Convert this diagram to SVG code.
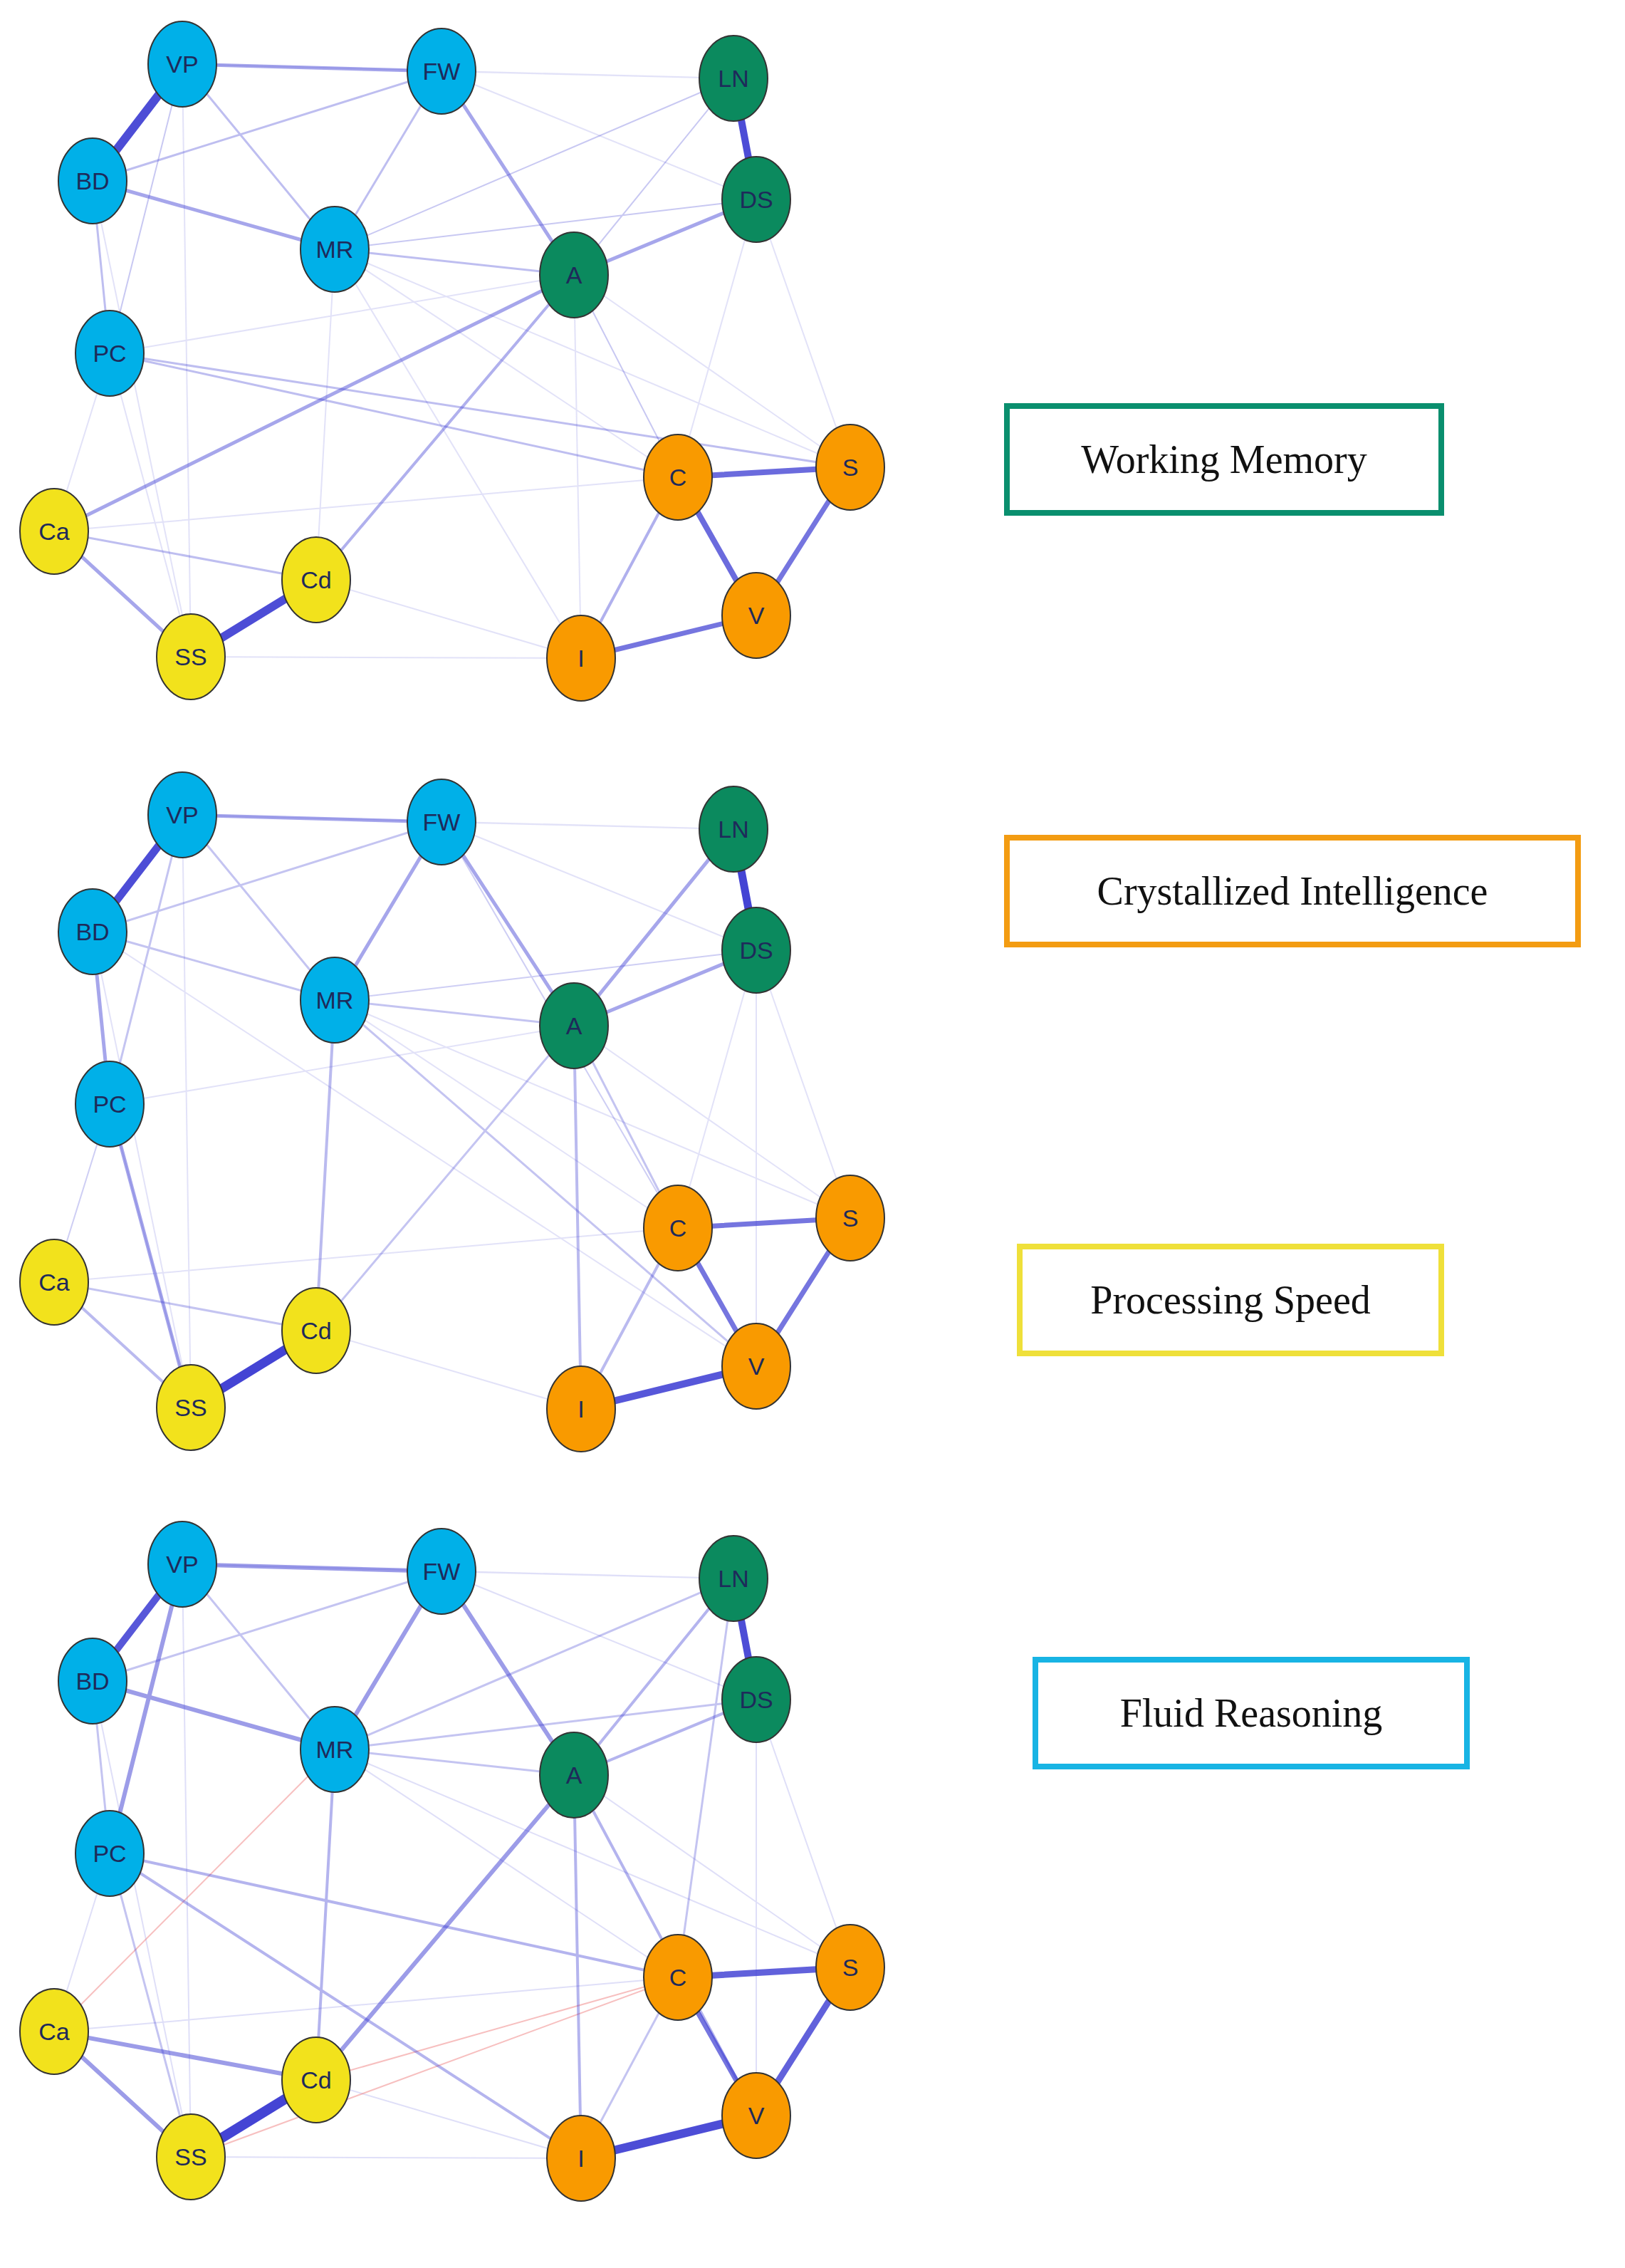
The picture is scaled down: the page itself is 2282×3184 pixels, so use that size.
<svg xmlns="http://www.w3.org/2000/svg" width="2282" height="3184" viewBox="0 0 2282 3184">
<style>
.e{stroke:#3a3ad2;fill:none;stroke-linecap:round}
.r{stroke:#f08080;fill:none}
.n ellipse{stroke:#333;stroke-width:2}
.n text{font-family:"Liberation Sans",Arial,sans-serif;font-size:34px;fill:#1e2a5a;text-anchor:middle;dominant-baseline:central}
.b ellipse{fill:#00b0e8}.g ellipse{fill:#0b8a5e}.o ellipse{fill:#f99a00}.y ellipse{fill:#f2e21c}
.lg rect{fill:#fff;stroke-width:8}
.lg text{font-family:"Liberation Serif","Times New Roman",serif;font-size:56px;fill:#111;text-anchor:middle;dominant-baseline:central}
</style>
<rect width="2282" height="3184" fill="#fff"/>
<g id="connectors">
<g id="edges1">
<g stroke-width="2" stroke-opacity="0.15" class="e">
<path d="M154 496L76 746M154 496L268 922M470 350L444 814M806 386L816 924M806 386L1194 656M256 90L268 922M130 254L268 922M470 350L816 924M620 100L1030 110M620 100L1062 280M1062 280L1194 656M1062 280L952 670M444 814L816 924M268 922L816 924M76 746L952 670M470 350L1194 656M154 496L806 386M256 90L1030 110M470 350L952 670"/>
</g>
<path class="e" d="M256 90L130 254" stroke-width="12" stroke-opacity="0.9"/>
<path class="e" d="M1030 110L1062 280" stroke-width="10" stroke-opacity="0.9"/>
<path class="e" d="M268 922L444 814" stroke-width="12" stroke-opacity="0.9"/>
<path class="e" d="M952 670L1194 656M952 670L1062 864" stroke-width="8" stroke-opacity="0.75"/>
<path class="e" d="M1194 656L1062 864M816 924L1062 864" stroke-width="7" stroke-opacity="0.7"/>
<path class="e" d="M256 90L620 100M620 100L806 386M806 386L1062 280M806 386L76 746M130 254L470 350M76 746L268 922" stroke-width="5" stroke-opacity="0.45"/>
<path class="e" d="M806 386L444 814M816 924L952 670" stroke-width="4" stroke-opacity="0.4"/>
<path class="e" d="M256 90L470 350M620 100L470 350M620 100L130 254M470 350L806 386M154 496L952 670M154 496L1194 656M76 746L444 814M130 254L154 496" stroke-width="3" stroke-opacity="0.33"/>
<path class="e" d="M806 386L952 670M256 90L154 496M1030 110L806 386M1030 110L470 350M1062 280L470 350" stroke-width="2" stroke-opacity="0.28"/>
</g>
<g id="edges2" transform="translate(0,1054)">
<g stroke-width="2" stroke-opacity="0.15" class="e">
<path d="M154 496L268 922M806 386L1194 656M256 90L268 922M130 254L268 922M620 100L1030 110M1062 280L1194 656M1062 280L952 670M444 814L816 924M76 746L952 670M470 350L1194 656M154 496L806 386M256 90L1030 110M470 350L952 670M130 254L1062 864M620 100L1062 280M1062 280L1062 864"/>
</g>
<path class="e" d="M256 90L130 254" stroke-width="11" stroke-opacity="0.9"/>
<path class="e" d="M1030 110L1062 280" stroke-width="11" stroke-opacity="0.95"/>
<path class="e" d="M268 922L444 814" stroke-width="13" stroke-opacity="0.95"/>
<path class="e" d="M816 924L1062 864" stroke-width="10" stroke-opacity="0.85"/>
<path class="e" d="M952 670L1194 656M952 670L1062 864M1194 656L1062 864" stroke-width="7" stroke-opacity="0.7"/>
<path class="e" d="M256 90L620 100M620 100L806 386M620 100L470 350M806 386L1062 280M1030 110L806 386M130 254L154 496M154 496L268 922" stroke-width="5" stroke-opacity="0.45"/>
<path class="e" d="M816 924L952 670M806 386L816 924M470 350L444 814M76 746L268 922" stroke-width="4" stroke-opacity="0.35"/>
<path class="e" d="M256 90L470 350M620 100L130 254M470 350L806 386M130 254L470 350M76 746L444 814M806 386L952 670M470 350L1062 864M806 386L444 814M256 90L154 496" stroke-width="3" stroke-opacity="0.3"/>
<path class="e" d="M154 496L76 746M1062 280L470 350M620 100L952 670" stroke-width="2" stroke-opacity="0.25"/>
</g>
<g id="edges3" transform="translate(0,2106)">
<g stroke-width="2" stroke-opacity="0.16" class="e">
<path d="M154 496L76 746M806 386L1194 656M256 90L268 922M620 100L1030 110M1062 280L1194 656M444 814L816 924M470 350L1194 656M256 90L1030 110M470 350L952 670M620 100L1062 280M1062 280L1062 864M130 254L268 922M76 746L952 670M268 922L816 924"/>
</g>
<path class="r" d="M76 746L470 350M444 814L952 670M268 922L952 670" stroke-width="2" stroke-opacity="0.5"/>
<path class="e" d="M256 90L130 254" stroke-width="10" stroke-opacity="0.85"/>
<path class="e" d="M1030 110L1062 280" stroke-width="10" stroke-opacity="0.9"/>
<path class="e" d="M268 922L444 814" stroke-width="14" stroke-opacity="0.95"/>
<path class="e" d="M816 924L1062 864" stroke-width="12" stroke-opacity="0.9"/>
<path class="e" d="M952 670L1194 656M1194 656L1062 864" stroke-width="9" stroke-opacity="0.8"/>
<path class="e" d="M952 670L1062 864" stroke-width="7" stroke-opacity="0.7"/>
<path class="e" d="M256 90L620 100M620 100L806 386M620 100L470 350M130 254L470 350M806 386L444 814M256 90L154 496M76 746L268 922M76 746L444 814" stroke-width="6" stroke-opacity="0.5"/>
<path class="e" d="M806 386L1062 280M1030 110L806 386M154 496L816 924M154 496L952 670M470 350L444 814M806 386L816 924M806 386L1062 864" stroke-width="4" stroke-opacity="0.38"/>
<path class="e" d="M256 90L470 350M620 100L130 254M470 350L806 386M130 254L154 496M1030 110L470 350M1062 280L470 350M816 924L952 670M1030 110L952 670M154 496L268 922" stroke-width="3" stroke-opacity="0.3"/>
</g>
</g>
<g id="panel1">
<g id="VP1" class="n b"><ellipse cx="256" cy="90" rx="48" ry="60"/><text x="256" y="90">VP</text></g>
<g id="FW1" class="n b"><ellipse cx="620" cy="100" rx="48" ry="60"/><text x="620" y="100">FW</text></g>
<g id="LN1" class="n g"><ellipse cx="1030" cy="110" rx="48" ry="60"/><text x="1030" y="110">LN</text></g>
<g id="BD1" class="n b"><ellipse cx="130" cy="254" rx="48" ry="60"/><text x="130" y="254">BD</text></g>
<g id="DS1" class="n g"><ellipse cx="1062" cy="280" rx="48" ry="60"/><text x="1062" y="280">DS</text></g>
<g id="MR1" class="n b"><ellipse cx="470" cy="350" rx="48" ry="60"/><text x="470" y="350">MR</text></g>
<g id="A1" class="n g"><ellipse cx="806" cy="386" rx="48" ry="60"/><text x="806" y="386">A</text></g>
<g id="PC1" class="n b"><ellipse cx="154" cy="496" rx="48" ry="60"/><text x="154" y="496">PC</text></g>
<g id="C1" class="n o"><ellipse cx="952" cy="670" rx="48" ry="60"/><text x="952" y="670">C</text></g>
<g id="S1" class="n o"><ellipse cx="1194" cy="656" rx="48" ry="60"/><text x="1194" y="656">S</text></g>
<g id="Ca1" class="n y"><ellipse cx="76" cy="746" rx="48" ry="60"/><text x="76" y="746">Ca</text></g>
<g id="Cd1" class="n y"><ellipse cx="444" cy="814" rx="48" ry="60"/><text x="444" y="814">Cd</text></g>
<g id="V1" class="n o"><ellipse cx="1062" cy="864" rx="48" ry="60"/><text x="1062" y="864">V</text></g>
<g id="SS1" class="n y"><ellipse cx="268" cy="922" rx="48" ry="60"/><text x="268" y="922">SS</text></g>
<g id="I1" class="n o"><ellipse cx="816" cy="924" rx="48" ry="60"/><text x="816" y="924">I</text></g>
</g>
<g id="panel2" transform="translate(0,1054)">
<g id="VP2" class="n b"><ellipse cx="256" cy="90" rx="48" ry="60"/><text x="256" y="90">VP</text></g>
<g id="FW2" class="n b"><ellipse cx="620" cy="100" rx="48" ry="60"/><text x="620" y="100">FW</text></g>
<g id="LN2" class="n g"><ellipse cx="1030" cy="110" rx="48" ry="60"/><text x="1030" y="110">LN</text></g>
<g id="BD2" class="n b"><ellipse cx="130" cy="254" rx="48" ry="60"/><text x="130" y="254">BD</text></g>
<g id="DS2" class="n g"><ellipse cx="1062" cy="280" rx="48" ry="60"/><text x="1062" y="280">DS</text></g>
<g id="MR2" class="n b"><ellipse cx="470" cy="350" rx="48" ry="60"/><text x="470" y="350">MR</text></g>
<g id="A2" class="n g"><ellipse cx="806" cy="386" rx="48" ry="60"/><text x="806" y="386">A</text></g>
<g id="PC2" class="n b"><ellipse cx="154" cy="496" rx="48" ry="60"/><text x="154" y="496">PC</text></g>
<g id="C2" class="n o"><ellipse cx="952" cy="670" rx="48" ry="60"/><text x="952" y="670">C</text></g>
<g id="S2" class="n o"><ellipse cx="1194" cy="656" rx="48" ry="60"/><text x="1194" y="656">S</text></g>
<g id="Ca2" class="n y"><ellipse cx="76" cy="746" rx="48" ry="60"/><text x="76" y="746">Ca</text></g>
<g id="Cd2" class="n y"><ellipse cx="444" cy="814" rx="48" ry="60"/><text x="444" y="814">Cd</text></g>
<g id="V2" class="n o"><ellipse cx="1062" cy="864" rx="48" ry="60"/><text x="1062" y="864">V</text></g>
<g id="SS2" class="n y"><ellipse cx="268" cy="922" rx="48" ry="60"/><text x="268" y="922">SS</text></g>
<g id="I2" class="n o"><ellipse cx="816" cy="924" rx="48" ry="60"/><text x="816" y="924">I</text></g>
</g>
<g id="panel3" transform="translate(0,2106)">
<g id="VP3" class="n b"><ellipse cx="256" cy="90" rx="48" ry="60"/><text x="256" y="90">VP</text></g>
<g id="FW3" class="n b"><ellipse cx="620" cy="100" rx="48" ry="60"/><text x="620" y="100">FW</text></g>
<g id="LN3" class="n g"><ellipse cx="1030" cy="110" rx="48" ry="60"/><text x="1030" y="110">LN</text></g>
<g id="BD3" class="n b"><ellipse cx="130" cy="254" rx="48" ry="60"/><text x="130" y="254">BD</text></g>
<g id="DS3" class="n g"><ellipse cx="1062" cy="280" rx="48" ry="60"/><text x="1062" y="280">DS</text></g>
<g id="MR3" class="n b"><ellipse cx="470" cy="350" rx="48" ry="60"/><text x="470" y="350">MR</text></g>
<g id="A3" class="n g"><ellipse cx="806" cy="386" rx="48" ry="60"/><text x="806" y="386">A</text></g>
<g id="PC3" class="n b"><ellipse cx="154" cy="496" rx="48" ry="60"/><text x="154" y="496">PC</text></g>
<g id="C3" class="n o"><ellipse cx="952" cy="670" rx="48" ry="60"/><text x="952" y="670">C</text></g>
<g id="S3" class="n o"><ellipse cx="1194" cy="656" rx="48" ry="60"/><text x="1194" y="656">S</text></g>
<g id="Ca3" class="n y"><ellipse cx="76" cy="746" rx="48" ry="60"/><text x="76" y="746">Ca</text></g>
<g id="Cd3" class="n y"><ellipse cx="444" cy="814" rx="48" ry="60"/><text x="444" y="814">Cd</text></g>
<g id="V3" class="n o"><ellipse cx="1062" cy="864" rx="48" ry="60"/><text x="1062" y="864">V</text></g>
<g id="SS3" class="n y"><ellipse cx="268" cy="922" rx="48" ry="60"/><text x="268" y="922">SS</text></g>
<g id="I3" class="n o"><ellipse cx="816" cy="924" rx="48" ry="60"/><text x="816" y="924">I</text></g>
</g>
<g id="legend-wm" class="lg"><rect x="1414" y="570" width="610" height="150" stroke="#0a8f6e"/><text x="1719" y="645">Working Memory</text></g>
<g id="legend-ci" class="lg"><rect x="1414" y="1176" width="802" height="150" stroke="#f39c12"/><text x="1815" y="1251">Crystallized Intelligence</text></g>
<g id="legend-ps" class="lg"><rect x="1432" y="1750" width="592" height="150" stroke="#efe03a"/><text x="1728" y="1825">Processing Speed</text></g>
<g id="legend-fr" class="lg"><rect x="1454" y="2330" width="606" height="150" stroke="#18b4e4"/><text x="1757" y="2405">Fluid Reasoning</text></g>
</svg>
